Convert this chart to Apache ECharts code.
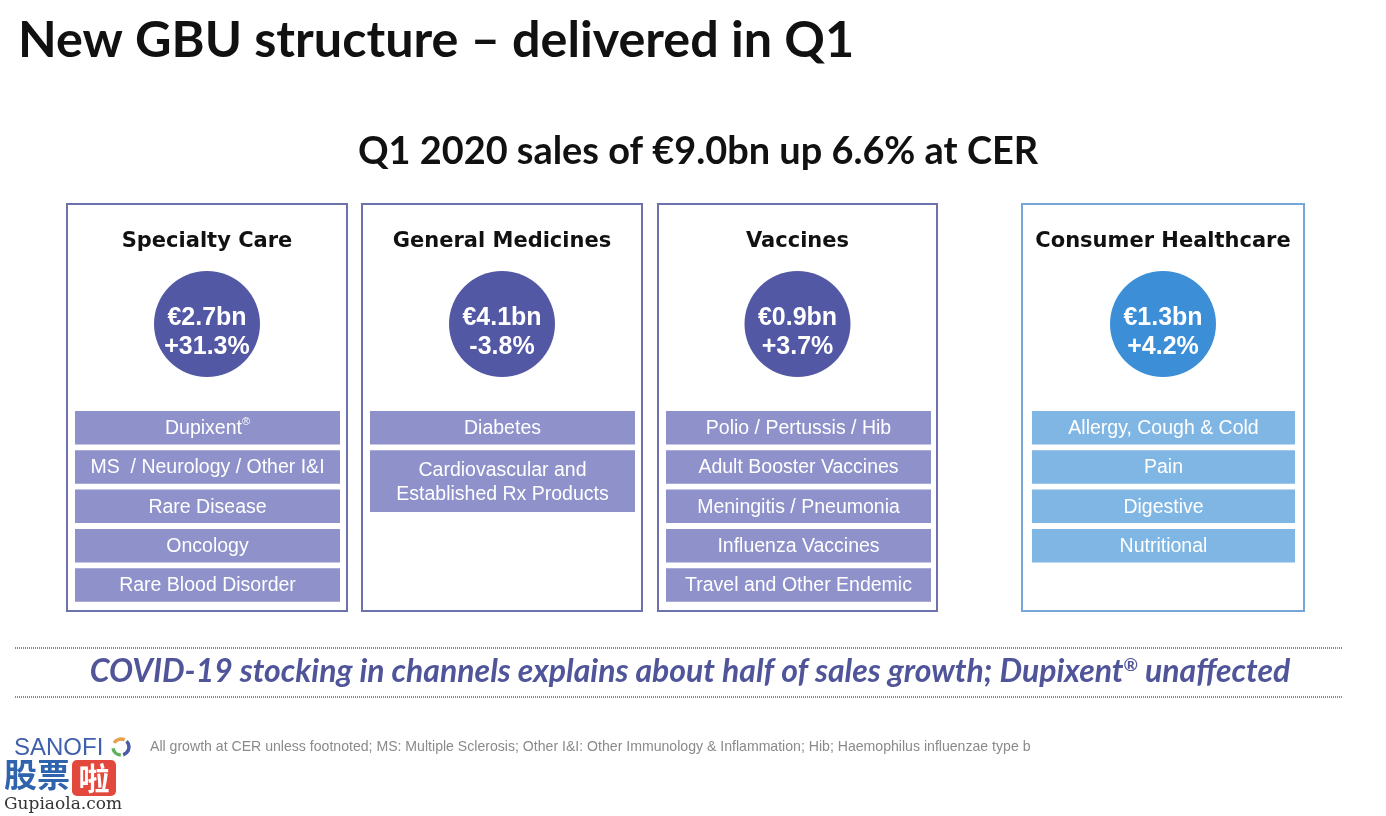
<!DOCTYPE html>
<html>
<head>
<meta charset="utf-8">
<script src="https://cdn.jsdelivr.net/npm/echarts@6/dist/echarts.min.js"></script>
<style>
  html, body { margin: 0; padding: 0; background: #ffffff; }
  #chart { width: 1386px; height: 816px; }
</style>
</head>
<body>
<div id="chart"></div>
<script>
// ---------------- DATA ----------------
const titleText = 'New GBU structure \u2013 delivered in Q1';
const totalSalesBn = 9.0;
const totalGrowthPct = 6.6;
const units = ['Specialty Care', 'General Medicines', 'Vaccines', 'Consumer Healthcare'];
const salesBn = [2.7, 4.1, 0.9, 1.3];
const growthPct = [31.3, -3.8, 3.7, 4.2];
const specialtyItems = ['Dupixent\u00AE', 'MS  / Neurology / Other I&I', 'Rare Disease', 'Oncology', 'Rare Blood Disorder'];
const generalItems = ['Diabetes', 'Cardiovascular and\nEstablished Rx Products'];
const vaccineItems = ['Polio / Pertussis / Hib', 'Adult Booster Vaccines', 'Meningitis / Pneumonia', 'Influenza Vaccines', 'Travel and Other Endemic'];
const consumerItems = ['Allergy, Cough & Cold', 'Pain', 'Digestive', 'Nutritional'];
const unitItems = [specialtyItems, generalItems, vaccineItems, consumerItems];
const noteText = 'COVID-19 stocking in channels explains about half of sales growth; Dupixent\u00AE unaffected';
const footnoteText = 'All growth at CER unless footnoted; MS: Multiple Sclerosis; Other I&I: Other Immunology & Inflammation; Hib; Haemophilus influenzae type b';

// ---------------- STYLE / LAYOUT ----------------
const pharmaTheme = { border: '#6d72ad', circle: '#5358a5', bar: '#8e91ca' };
const consumerTheme = { border: '#74a7d8', circle: '#3c8fd7', bar: '#80b6e3' };
const boxLeft = [67, 362, 658, 1022];
const boxW = [280, 280, 279, 282];
const boxTop = 204, boxH = 407;
const headFont = '"Lato", "DejaVu Sans", sans-serif';
const unitFont = '"DejaVu Sans", sans-serif';
const bodyFont = '"Liberation Sans", Arial, sans-serif';

const mctx = document.createElement('canvas').getContext('2d');
function fit(text, family, weight, style, targetW) {
  mctx.font = style + ' ' + weight + ' 100px ' + family;
  return 100 * targetW / mctx.measureText(text).width;
}

function fmtSales(v) { return '\u20AC' + v.toFixed(1) + 'bn'; }
function fmtGrowth(v) { return (v >= 0 ? '+' : '') + v.toFixed(1) + '%'; }

// rich text helper for ® superscript
function richText(s) {
  return s.split('\u00AE').map(function (p, i, arr) {
    return (p ? '{n|' + p.replace(/\n/g, '}\n{n|') + '}' : '') + (i < arr.length - 1 ? '{s|\u00AE}' : '');
  }).join('');
}

const graphics = [];

// Title
graphics.push({
  type: 'text', left: 18, top: 16,
  style: { text: titleText, font: 'bold ' + fit(titleText, headFont, 'bold', 'normal', 837).toFixed(1) + 'px ' + headFont, fill: '#111111' }
});

// Subtitle
const subText = 'Q1 ' + '2020 sales of ' + fmtSales(totalSalesBn) + ' up ' + totalGrowthPct.toFixed(1) + '% at CER';
graphics.push({
  type: 'text', x: 698, y: 152,
  style: { text: subText, font: 'bold ' + fit(subText, headFont, 'bold', 'normal', 680).toFixed(1) + 'px ' + headFont, fill: '#111111', align: 'center', verticalAlign: 'middle' }
});

const unitSize = fit(units[3], unitFont, 'bold', 'normal', 256);
const itemStep = 39.3, itemH = 33.5, firstItemTop = 411;
units.forEach(function (u, i) {
  const th = i === 3 ? consumerTheme : pharmaTheme;
  const x0 = boxLeft[i], w = boxW[i], cx = x0 + w / 2;
  graphics.push({
    type: 'rect', shape: { x: x0, y: boxTop, width: w, height: boxH },
    style: { fill: 'none', stroke: th.border, lineWidth: 2 }
  });
  graphics.push({
    type: 'text', x: cx, y: 242,
    style: { text: u, font: 'bold ' + unitSize.toFixed(1) + 'px ' + unitFont, fill: '#111111', align: 'center', verticalAlign: 'middle' }
  });
  graphics.push({
    type: 'circle', shape: { cx: cx, cy: 324, r: 53 },
    style: { fill: th.circle }
  });
  graphics.push({
    type: 'text', x: cx, y: 333,
    style: { text: fmtSales(salesBn[i]) + '\n' + fmtGrowth(growthPct[i]), font: 'bold 25px ' + bodyFont, lineHeight: 29, fill: '#ffffff', align: 'center', verticalAlign: 'middle' }
  });
  let y = firstItemTop;
  unitItems[i].forEach(function (it) {
    const lines = it.split('\n').length;
    const h = itemH + (lines - 1) * (itemStep - 11);
    const bx = i === 3 ? x0 + 10 : x0 + 8;
    const bw = i === 3 ? 263 : 265;
    graphics.push({
      type: 'rect', shape: { x: bx, y: y, width: bw, height: h },
      style: { fill: th.bar }
    });
    graphics.push({
      type: 'text', x: bx + bw / 2, y: y + h / 2 + 1,
      style: {
        text: richText(it), align: 'center', verticalAlign: 'middle',
        rich: {
          n: { fontFamily: bodyFont, fontSize: 19.5, fill: '#ffffff', color: '#ffffff', lineHeight: 24 },
          s: { fontFamily: bodyFont, fontSize: 11, fill: '#ffffff', color: '#ffffff', verticalAlign: 'top', lineHeight: 24, padding: [0, 0, 8, 0] }
        }
      }
    });
    y += h + (itemStep - itemH);
  });
});

// dotted separators
[648, 697].forEach(function (ly) {
  graphics.push({
    type: 'line', shape: { x1: 15, y1: ly, x2: 1343, y2: ly },
    style: { stroke: '#8a8a8a', lineWidth: 2, lineDash: [1, 1] }
  });
});

// COVID note
const noteSize = fit(noteText, headFont, 'bold', 'italic', 1213);
graphics.push({
  type: 'text', x: 690, y: 672,
  style: {
    text: richText(noteText), align: 'center', verticalAlign: 'middle',
    rich: {
      n: { fontFamily: headFont, fontWeight: 'bold', fontStyle: 'italic', fontSize: noteSize, fill: '#50559a' },
      s: { fontFamily: headFont, fontWeight: 'bold', fontSize: noteSize * 0.55, fill: '#50559a', verticalAlign: 'top', padding: [0, 0, 10, 0] }
    }
  }
});

// Footer logo
graphics.push({
  type: 'text', left: 14, top: 736,
  style: { text: 'SANOFI', font: '500 24px ' + bodyFont, fill: '#3f60ad' }
});
graphics.push({ type: 'arc', shape: { cx: 121, cy: 747, r: 8, startAngle: -2.6, endAngle: -1.1 }, style: { stroke: '#e8a04a', lineWidth: 3.5, fill: 'none' } });
graphics.push({ type: 'arc', shape: { cx: 121, cy: 747, r: 8, startAngle: 1.6, endAngle: 3.0 }, style: { stroke: '#5fb25a', lineWidth: 3.5, fill: 'none' } });
graphics.push({ type: 'arc', shape: { cx: 121, cy: 747, r: 8, startAngle: -0.8, endAngle: 1.3 }, style: { stroke: '#4d5aa6', lineWidth: 3.5, fill: 'none' } });

graphics.push({
  type: 'text', left: 150, top: 740,
  style: { text: footnoteText, font: fit(footnoteText, bodyFont, 'normal', 'normal', 883).toFixed(1) + 'px ' + bodyFont, fill: '#8a8a8a' }
});

// watermark
graphics.push({ type: 'text', left: 4, top: 758, style: { text: '股票', font: 'bold 33px "Noto Sans CJK SC"', fill: '#2f63ad' } });
graphics.push({ type: 'rect', shape: { x: 72, y: 760, width: 44, height: 36, r: 5 }, style: { fill: '#e2483b' } });
graphics.push({ type: 'text', x: 94, y: 778, style: { text: '啦', font: 'bold 31px "Noto Sans CJK SC"', fill: '#ffffff', align: 'center', verticalAlign: 'middle' } });
graphics.push({ type: 'text', left: 4, top: 796, style: { text: 'Gupiaola.com', font: '17px "DejaVu Serif", serif', fill: '#333333' } });

const chart = echarts.init(document.getElementById('chart'), null, { renderer: 'canvas' });
chart.setOption({
  backgroundColor: '#ffffff',
  animation: false,
  graphic: graphics
});
</script>
</body>
</html>
